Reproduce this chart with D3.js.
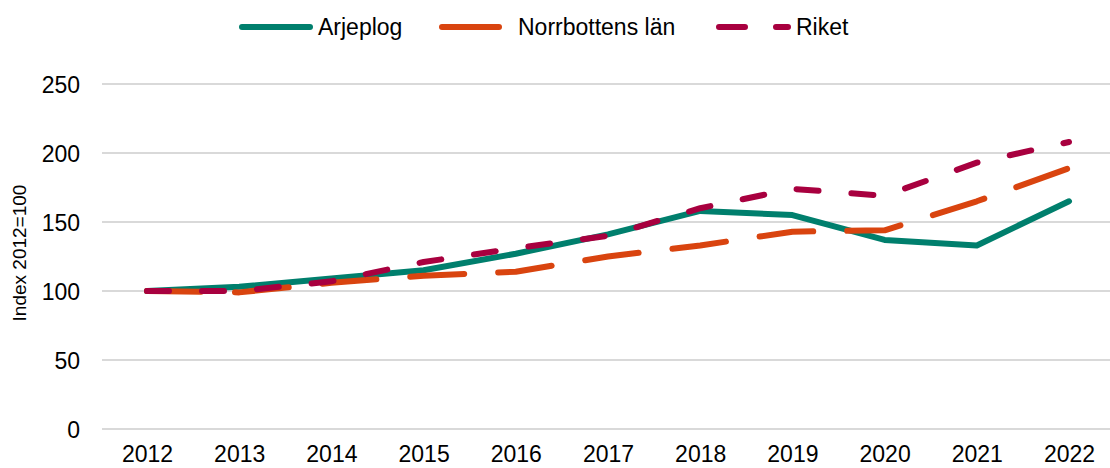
<!DOCTYPE html>
<html>
<head>
<meta charset="utf-8">
<script src="https://cdn.jsdelivr.net/npm/d3@7"></script>
<style>
  body { margin: 0; background: #fff; }
  text { font-family: "Liberation Sans", Arial, sans-serif; }
</style>
</head>
<body>
<script>
const years = [2012, 2013, 2014, 2015, 2016, 2017, 2018, 2019, 2020, 2021, 2022]
const arjeplog = [100, 103, 109, 115, 127, 141, 158, 155, 137, 133, 165]
const norrbotten = [100, 99, 106, 111, 114, 125, 133, 143, 144, 165, 189]
const riket = [100, 100, 107, 121, 131, 140, 160, 174, 169, 193, 208]
const yTicks = [0, 50, 100, 150, 200, 250]

const w = 1110
const h = 468

const series = [
  { name: 'Arjeplog', values: arjeplog, color: '#007f6d', dash: null },
  { name: 'Norrbottens län', values: norrbotten, color: '#d9440f', dash: '54,34' },
  { name: 'Riket', values: riket, color: '#a8003f', dash: '22,33' }
]

const svg = d3.select('body')
  .append('svg')
  .attr('width', w)
  .attr('height', h)

const xScale = d3.scalePoint()
  .domain(years)
  .range([147, 1069])

const yScale = d3.scaleLinear()
  .domain([0, 250])
  .range([429, 84])

// gridlines
svg.append('g')
  .selectAll('line')
  .data(yTicks)
  .enter()
  .append('line')
  .attr('x1', 102)
  .attr('x2', 1110)
  .attr('y1', d => yScale(d))
  .attr('y2', d => yScale(d))
  .attr('stroke', '#d9d9d9')
  .attr('stroke-width', 2)

const yAxis = d3.axisLeft(yScale).tickValues(yTicks).tickSize(0).tickPadding(0)
svg.append('g')
  .attr('transform', 'translate(80,0)')
  .call(yAxis)
  .call(g => g.select('.domain').remove())
  .selectAll('text')
  .attr('font-size', 23)
  .attr('fill', '#000')
  .attr('dy', '0.36em')

const xAxis = d3.axisBottom(xScale).tickSize(0).tickPadding(0)
svg.append('g')
  .attr('transform', 'translate(0,462)')
  .call(xAxis)
  .call(g => g.select('.domain').remove())
  .selectAll('text')
  .attr('font-size', 23)
  .attr('fill', '#000')
  .attr('y', 0)
  .attr('dy', 0)

svg.append('text')
  .attr('transform', 'translate(26,253) rotate(-90)')
  .attr('text-anchor', 'middle')
  .attr('font-size', 19)
  .attr('fill', '#000')
  .text('Index 2012=100')

const line = d3.line()
  .x((d, i) => xScale(years[i]))
  .y(d => yScale(d))

series.forEach(s => {
  svg.append('path')
    .datum(s.values)
    .attr('d', line)
    .attr('fill', 'none')
    .attr('stroke', s.color)
    .attr('stroke-width', 6)
    .attr('stroke-linecap', 'round')
    .attr('stroke-linejoin', 'round')
    .attr('stroke-dasharray', s.dash)
})

// legend
const legendItems = [
  { s: series[0], x1: 242, x2: 310, tx: 318 },
  { s: series[1], x1: 442, x2: 499, tx: 518 },
  { s: series[2], x1: 719, x2: 788, tx: 796 }
]
const legend = svg.append('g')
legendItems.forEach(it => {
  legend.append('line')
    .attr('x1', it.x1)
    .attr('x2', it.x2)
    .attr('y1', 27)
    .attr('y2', 27)
    .attr('stroke', it.s.color)
    .attr('stroke-width', 6)
    .attr('stroke-linecap', 'round')
    .attr('stroke-dasharray', it.s.name === 'Riket' ? '26,31' : null)
  legend.append('text')
    .attr('x', it.tx)
    .attr('y', 35)
    .attr('font-size', 23)
    .attr('fill', '#000')
    .text(it.s.name)
})
</script>
</body>
</html>
